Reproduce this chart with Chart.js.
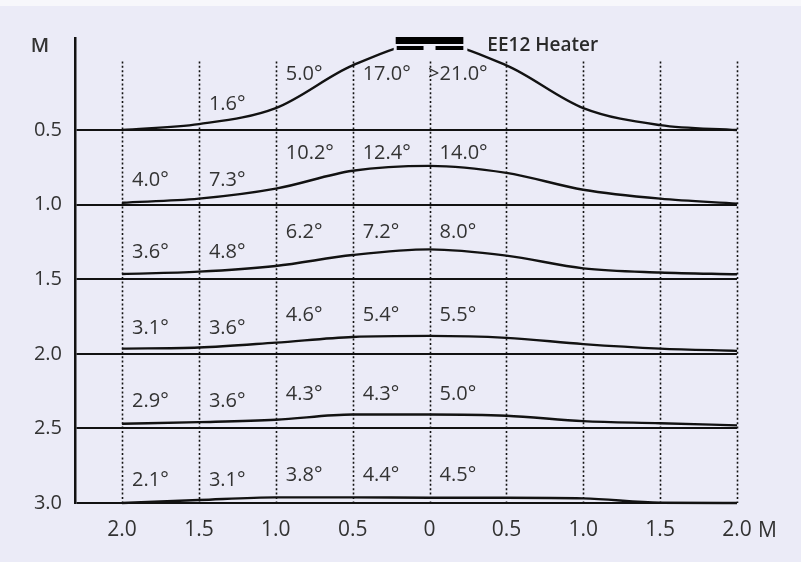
<!DOCTYPE html>
<html>
<head>
<meta charset="utf-8">
<script src="https://cdn.jsdelivr.net/npm/chart.js@4/dist/chart.umd.min.js"></script>
<style>
  html, body { margin: 0; padding: 0; background: #ebebf7; }
  #wrap { width: 801px; height: 562px; }
</style>
</head>
<body>
<div id="wrap"><canvas id="heat"></canvas></div>
<script>
// distance from heater centre (M), left side shown as negative
const xPositions = [-2.0, -1.5, -1.0, -0.5, 0.0, 0.5, 1.0, 1.5, 2.0]
const xTickLabels = ['2.0', '1.5', '1.0', '0.5', '0', '0.5', '1.0', '1.5', '2.0']
// measuring depth below heater (M)
const depths = [0.5, 1.0, 1.5, 2.0, 2.5, 3.0]
const yTickLabels = ['0.5', '1.0', '1.5', '2.0', '2.5', '3.0']

// heat profile curves (axis units, smaller = higher)
const curve05 = [0.5, 0.46, 0.353, 0.067, -0.087, 0.067, 0.353, 0.467, 0.5]
const curve10 = [0.987, 0.96, 0.893, 0.773, 0.74, 0.787, 0.9, 0.96, 0.993]
const curve15 = [1.465, 1.449, 1.411, 1.338, 1.30, 1.342, 1.427, 1.455, 1.467]
const curve20 = [1.965, 1.958, 1.925, 1.887, 1.88, 1.893, 1.935, 1.965, 1.98]
const curve25 = [2.469, 2.458, 2.442, 2.407, 2.407, 2.415, 2.451, 2.465, 2.48]
const curve30 = [3.0, 2.98, 2.962, 2.962, 2.965, 2.965, 2.969, 2.998, 3.0]

// temperature readings (°), one per cell starting at these x positions
const tempColumns = [-2.0, -1.5, -1.0, -0.5, 0.0]
const temps05 = [null, 1.6, 5.0, 17.0, 21.0]
const prefix05 = ['', '', '', '', '>']
const temps10 = [4.0, 7.3, 10.2, 12.4, 14.0]
const temps15 = [3.6, 4.8, 6.2, 7.2, 8.0]
const temps20 = [3.1, 3.6, 4.6, 5.4, 5.5]
const temps25 = [2.9, 3.6, 4.3, 4.3, 5.0]
const temps30 = [2.1, 3.1, 3.8, 4.4, 4.5]

const heaterLabel = 'EE12 Heater'
const unitLabel = 'M'

const curves = [curve05, curve10, curve15, curve20, curve25, curve30]
const tempRows = [temps05, temps10, temps15, temps20, temps25, temps30]

// layout only: how far (px) the readings sit above their base line
const liftNear = [26, 24.5, 26.5, 26, 27.5, 23]
const liftFar = [56, 51, 47, 39, 34.5, 28]

const bgColor = '#ebebf7'
const inkColor = '#121212'
const textColor = '#333'
const fontFamily = '"Open Sans", "Noto Sans", sans-serif'

function makeDatasets() {
    return curves.map((c, i) => ({
        label: yTickLabels[i],
        data: c.map((v, j) => ({ x: xPositions[j], y: v })),
        borderColor: inkColor,
        borderWidth: 2.4,
        pointRadius: 0,
        cubicInterpolationMode: 'monotone',
        fill: false,
        clip: false
    }))
}

const decorPlugin = {
    id: 'decor',
    beforeDraw(chart) {
        const ctx = chart.ctx
        ctx.save()
        ctx.fillStyle = bgColor
        ctx.fillRect(0, 0, chart.width, chart.height)
        // paler scan edge along the top
        ctx.fillStyle = '#f7f7fb'
        ctx.fillRect(0, 0, chart.width, 6)
        ctx.restore()
    },
    beforeDatasetsDraw(chart) {
        const ctx = chart.ctx
        const xs = chart.scales.x
        const ys = chart.scales.y
        // dotted verticals
        ctx.save()
        ctx.strokeStyle = inkColor
        ctx.lineWidth = 1.6
        ctx.setLineDash([2, 2.4])
        const top = ys.getPixelForValue(0.04)
        const bottom = ys.getPixelForValue(3.0)
        xPositions.forEach(v => {
            const px = Math.round(xs.getPixelForValue(v)) + 0.5
            ctx.beginPath()
            ctx.moveTo(px, top)
            ctx.lineTo(px, bottom)
            ctx.stroke()
        })
        ctx.restore()
    },
    afterDraw(chart) {
        const ctx = chart.ctx
        const xs = chart.scales.x
        const ys = chart.scales.y
        const area = chart.chartArea
        ctx.save()

        // heater symbol
        const hl = xs.getPixelForValue(-0.22)
        const hr = xs.getPixelForValue(0.22)
        const hm = xs.getPixelForValue(0)
        ctx.fillStyle = bgColor
        ctx.fillRect(hl - 2, area.top - 2, hr - hl + 6, 15)
        ctx.fillStyle = '#000'
        ctx.fillRect(hl, area.top - 1, hr - hl, 7)
        ctx.fillRect(hl + 1, area.top + 8, hm - 6 - hl - 1, 4)
        ctx.fillRect(hm + 6, area.top + 8, hr - hm - 6, 4)

        ctx.fillStyle = '#2a2a2a'
        ctx.font = '600 19px ' + fontFamily
        ctx.textBaseline = 'middle'
        ctx.textAlign = 'left'
        ctx.fillText(heaterLabel, hr + 24, area.top + 8)

        // unit labels
        ctx.fillStyle = textColor
        ctx.font = '600 20px ' + fontFamily
        ctx.textAlign = 'center'
        ctx.fillText(unitLabel, area.left - 35, area.top + 8)
        ctx.font = '500 21px ' + fontFamily
        ctx.textAlign = 'left'
        ctx.fillText(unitLabel, xs.getPixelForValue(2.0) + 21, area.bottom + 28)

        // temperature readings
        ctx.font = '20px ' + fontFamily
        ctx.textBaseline = 'middle'
        tempRows.forEach((row, r) => {
            const base = ys.getPixelForValue(depths[r])
            row.forEach((t, c) => {
                if (t === null) return
                const pre = r === 0 ? prefix05[c] : ''
                const txt = t.toFixed(1) + '°'
                let x = xs.getPixelForValue(tempColumns[c]) + 10
                if (pre) {
                    x -= ctx.measureText(pre).width
                }
                const y = base - (c < 2 ? liftNear[r] : liftFar[r])
                ctx.fillText(pre + txt, x, y)
            })
        })
        ctx.restore()
    }
}

window.addEventListener('load', () => {
    new Chart(document.getElementById('heat'), {
        type: 'line',
        data: { datasets: makeDatasets() },
        plugins: [decorPlugin],
        options: {
            responsive: true,
            maintainAspectRatio: false,
            animation: false,
            layout: { padding: { top: 38, right: 64, left: 0, bottom: 0 } },
            plugins: {
                legend: { display: false },
                tooltip: { enabled: false }
            },
            scales: {
                x: {
                    type: 'linear',
                    min: -2.306,
                    max: 2.0,
                    afterBuildTicks: s => { s.ticks = xPositions.map(v => ({ value: v })) },
                    afterFit: s => { s.height = 59 },
                    grid: { display: false, drawTicks: false },
                    border: { display: false },
                    ticks: {
                        padding: 14,
                        color: textColor,
                        font: { family: fontFamily, size: 21 },
                        maxRotation: 0,
                        autoSkip: false,
                        callback: (v, i) => xTickLabels[i]
                    }
                },
                y: {
                    type: 'linear',
                    reverse: true,
                    min: -0.117,
                    max: 3.0,
                    afterBuildTicks: s => { s.ticks = depths.map(v => ({ value: v })) },
                    afterFit: s => { s.width = 75 },
                    grid: { color: inkColor, lineWidth: 2, drawTicks: false },
                    border: { display: true, color: inkColor, width: 2.5 },
                    ticks: {
                        padding: 13,
                        color: textColor,
                        font: { family: fontFamily, size: 20 },
                        autoSkip: false,
                        callback: (v, i) => yTickLabels[i]
                    }
                }
            }
        }
    })
})
</script>
</body>
</html>
